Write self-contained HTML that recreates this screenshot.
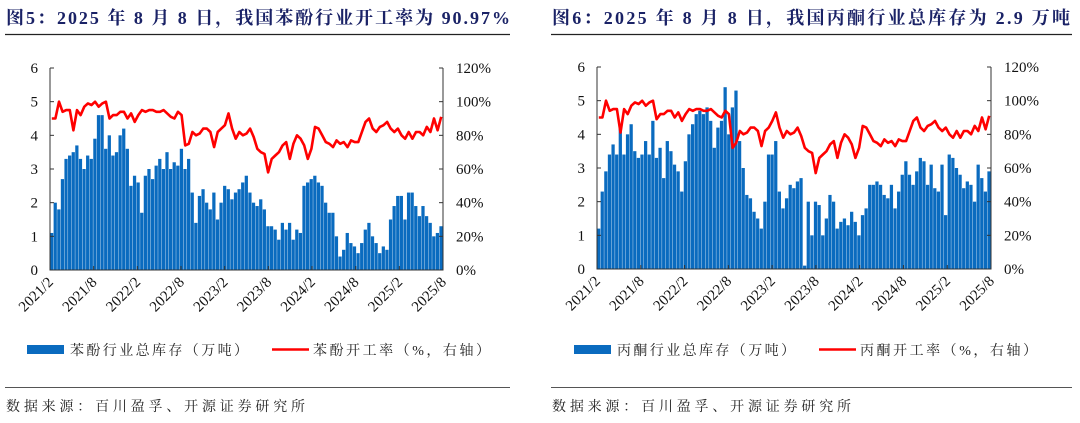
<!DOCTYPE html>
<html><head><meta charset="utf-8">
<style>
html,body{margin:0;padding:0;background:#fff;}
body{width:1080px;height:423px;overflow:hidden;position:relative;}
svg{position:absolute;left:0;top:0;}
</style></head>
<body>
<svg id="root" width="1080" height="423">
  <g>
    <text x="6" y="24" textLength="504" lengthAdjust="spacing" font-family="Liberation Serif, Noto Serif CJK SC, serif" font-weight="bold" font-size="18" fill="#1a2266">图5：2025 年 8 月 8 日，我国苯酚行业开工率为 90.97%</text>
    <line x1="5" y1="34.5" x2="510" y2="34.5" stroke="#222" stroke-width="1.2"/>
    <g id="chartL"></g>
    <line x1="5" y1="387.5" x2="510" y2="387.5" stroke="#555" stroke-width="1"/>
    <text x="6" y="411" textLength="299" lengthAdjust="spacing" font-family="Liberation Serif, Noto Serif CJK SC, serif" font-size="14" fill="#222">数据来源：百川盈孚、开源证券研究所</text>
  </g>
  <g>
    <text x="552" y="24" textLength="518" lengthAdjust="spacing" font-family="Liberation Serif, Noto Serif CJK SC, serif" font-weight="bold" font-size="18" fill="#1a2266">图6：2025 年 8 月 8 日，我国丙酮行业总库存为 2.9 万吨</text>
    <line x1="551" y1="34.5" x2="1072" y2="34.5" stroke="#222" stroke-width="1.2"/>
    <g id="chartR"></g>
    <line x1="551" y1="387.5" x2="1072" y2="387.5" stroke="#555" stroke-width="1"/>
    <text x="552" y="411" textLength="299" lengthAdjust="spacing" font-family="Liberation Serif, Noto Serif CJK SC, serif" font-size="14" fill="#222">数据来源：百川盈孚、开源证券研究所</text>
  </g>
</svg>
<script>
const xTickLabels = ["2021/2","2021/8","2022/2","2022/8","2023/2","2023/8","2024/2","2024/8","2025/2","2025/8"];
const yLeftTicks = [0,1,2,3,4,5,6];
const yRightTicks = ["0%","20%","40%","60%","80%","100%","120%"];
const phenolStock = [1.1,2.0,1.8,2.7,3.3,3.4,3.5,3.7,3.3,3.0,3.4,3.3,3.9,4.6,4.6,3.6,4.0,3.4,3.5,4.0,4.2,3.6,2.5,2.8,2.6,1.7,2.8,3.0,2.7,3.1,3.3,3.0,3.5,3.0,3.2,3.1,3.6,3.0,3.3,2.3,1.4,2.2,2.4,2.0,1.8,2.3,1.5,2.0,2.5,2.4,2.1,2.3,2.4,2.6,2.8,2.3,2.0,1.9,2.1,1.8,1.3,1.3,1.2,0.9,1.4,1.2,1.4,0.9,1.2,1.1,2.5,2.6,2.7,2.8,2.6,2.5,2.0,1.7,1.7,1.0,0.4,0.6,1.1,0.8,0.7,0.5,0.8,1.2,1.4,1.0,0.8,0.5,0.7,0.6,1.5,1.9,2.2,2.2,1.5,2.3,2.3,1.9,1.6,1.9,1.6,1.4,1.0,1.1,1.3];
const phenolRate = [90,90,100,94,95,95,83,95,92,97,99,98,100,97,99,100,90,92,92,94,94,90,93,88,92,95,94,95,95,94,94,95,93,91,90,94,92,74,75,82,80,81,84,84,82,73,82,84,86,93,84,78,82,80,81,84,79,72,70,69,58,66,68,70,74,76,66,75,80,78,74,66,72,85,84,80,76,75,73,77,75,76,73,77,76,76,82,88,90,84,82,85,86,88,84,82,84,80,78,82,78,82,82,80,85,82,90,83,91];
const acetoneStock = [1.2,2.3,2.9,3.4,3.7,3.4,4.3,3.4,4.0,4.3,3.5,3.3,3.4,3.8,3.4,4.4,3.3,3.6,2.7,3.8,3.5,3.1,2.9,2.3,3.2,4.0,4.3,4.6,4.7,4.6,4.8,4.4,3.6,4.2,4.4,5.4,4.0,4.8,5.3,3.8,3.0,2.2,2.1,1.7,1.5,1.2,2.0,3.4,3.4,3.8,2.3,1.8,2.1,2.5,2.4,2.6,2.7,0.1,2.0,1.0,2.0,1.9,1.0,1.5,2.2,2.0,1.2,1.4,1.5,1.3,1.7,1.4,1.0,1.6,1.8,2.5,2.5,2.6,2.5,2.2,2.1,2.5,1.8,2.3,2.8,3.2,2.8,2.5,2.9,3.3,3.2,2.5,3.1,2.4,2.3,3.1,1.6,3.4,3.3,3.0,2.8,2.4,2.6,2.5,2.0,3.1,2.7,2.3,2.9];
const acetoneRate = [90,90,100,94,95,95,81,95,92,97,99,98,100,97,99,100,89,92,92,94,94,90,93,88,92,95,94,95,95,94,94,95,93,91,90,94,92,72,75,82,80,81,84,84,82,73,82,84,88,93,84,78,82,80,81,84,79,72,70,69,57,66,68,70,74,76,66,75,80,78,74,66,72,85,84,80,76,75,73,77,75,76,73,77,76,76,82,88,90,84,82,85,86,88,84,82,84,80,78,82,78,82,82,80,85,82,90,83,91];

const NS="http://www.w3.org/2000/svg";
function mk(tag, attrs, parent){const e=document.createElementNS(NS,tag);for(const k in attrs)e.setAttribute(k,attrs[k]);parent.appendChild(e);return e;}

function drawChart(gid, x0, x1, y0, y1, stock, rate, barName, lineName){
  const g=document.getElementById(gid);
  const n=stock.length;
  const xs=i=>x0+(i+0.5)*(x1-x0)/n;
  const yL=v=>y0-(v/6)*(y0-y1);
  const yR=v=>y0-(v/120)*(y0-y1);
  const bw=(x1-x0)/n;
  for(let i=0;i<n;i++){
    const b=mk('rect',{x:xs(i)-bw/2,y:yL(stock[i]),width:bw*0.9,height:y0-yL(stock[i]),fill:'#0a6bbf'},g);
    
    
  }
  let d='';
  for(let i=0;i<rate.length;i++){d+=(i?'L':'M')+xs(i).toFixed(1)+' '+yR(rate[i]).toFixed(1);}
  const p=mk('path',{d:d,fill:'none',stroke:'#ff0000','stroke-width':2.6,'stroke-linejoin':'round'},g);
  
  
  const ax=mk('path',{d:`M${x0} ${y1}V${y0}H${x1}V${y1}`,fill:'none',stroke:'#333','stroke-width':1},g);
  
  
  const font='Liberation Serif, Noto Serif CJK SC, serif';
  for(let i=0;i<yLeftTicks.length;i++){
    const y=yL(yLeftTicks[i]);
    mk('line',{x1:x0,x2:x0+4,y1:y,y2:y,stroke:'#333'},g);
    mk('line',{x1:x1-4,x2:x1,y1:y,y2:y,stroke:'#333'},g);
    const t=mk('text',{x:x0-12,y:y+5,'text-anchor':'end','font-family':font,'font-size':15,fill:'#111'},g);
    t.textContent=yLeftTicks[i];
    
    
    const r=mk('text',{x:x1+13,y:y+5,'font-family':font,'font-size':15,fill:'#111'},g);
    r.textContent=yRightTicks[i];
    
    
  }
  for(let i=0;i<xTickLabels.length;i++){
    const x=x0+i*(x1-x0)/(xTickLabels.length-1);
    mk('line',{x1:x,x2:x,y1:y0,y2:y0-4,stroke:'#333'},g);
    const t=mk('text',{x:x+4,y:y0+13,'text-anchor':'end','font-family':font,'font-size':15,fill:'#111',transform:`rotate(-45 ${x+4} ${y0+13})`},g);
    t.textContent=xTickLabels[i];
    
    
  }
  const lx=x0-23;
  const lr=mk('rect',{x:lx,y:345,width:37,height:9,fill:'#0a6bbf'},g);
  
  
  const lt=mk('text',{x:lx+43,y:355,textLength:178,lengthAdjust:'spacing','font-family':font,'font-size':14,fill:'#222'},g);
  lt.textContent=barName;
  
  
  const ll=mk('line',{x1:lx+245,x2:lx+282,y1:349.5,y2:349.5,stroke:'#ff0000','stroke-width':2.5},g);
  
  
  const lt2=mk('text',{x:lx+286,y:355,textLength:177,lengthAdjust:'spacing','font-family':font,'font-size':14,fill:'#222'},g);
  lt2.textContent=lineName;
  
  
}
drawChart('chartL',50,443,270,68,phenolStock,phenolRate,'苯酚行业总库存（万吨）','苯酚开工率（%，右轴）');
drawChart('chartR',597,991,269,67,acetoneStock,acetoneRate,'丙酮行业总库存（万吨）','丙酮开工率（%，右轴）');
</script>
</body></html>
